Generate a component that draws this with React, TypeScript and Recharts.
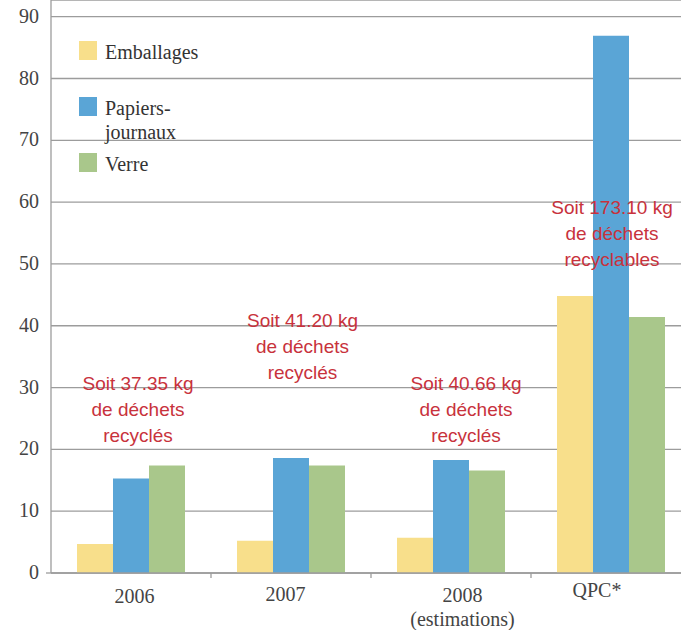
import React from 'react';
import { BarChart, Bar, XAxis, YAxis, CartesianGrid, Legend, ReferenceDot } from 'recharts';

const categories = ['2006', '2007', '2008', 'QPC*'];
const subLabels = ['', '', '(estimations)', ''];
const emballages = [4.7, 5.2, 5.7, 44.8];
const papiers = [15.3, 18.6, 18.3, 86.9];
const verre = [17.4, 17.4, 16.6, 41.4];
const yTicks = [0, 10, 20, 30, 40, 50, 60, 70, 80, 90];

const noteLines = [
  ['Soit 37.35 kg', 'de déchets', 'recyclés'],
  ['Soit 41.20 kg', 'de déchets', 'recyclés'],
  ['Soit 40.66 kg', 'de déchets', 'recyclés'],
  ['Soit 173.10 kg', 'de déchets', 'recyclables'],
];
// value at which the first line of each note sits
const noteLevel = [30.7, 41.0, 30.7, 59.2];

const data = categories.map((c, i) => ({
  cat: c,
  emballages: emballages[i],
  papiers: papiers[i],
  verre: verre[i],
}));

const W = 691;
const H = 630;
const Y_W = 51;
const band = (W - Y_W) / categories.length;

const SERIF = '"Liberation Serif", "DejaVu Serif", serif';
const SANS = '"Liberation Sans", Arial, sans-serif';
const RED = '#c8323c';
const GRID = '#9c9c9c';

// small nudges so the text lands where the original puts it
const labelShift = [3.5, -5.5, 11.5, -14];
const labelLift = [1, -1, 0, -5];
const noteShift = [7, 11.5, 15, 1];

const YTick = ({ x, y, payload }: any) => (
  <g>
    {payload.value === 0 && <line x1={x + 7} x2={x + 12} y1={y} y2={y} stroke={GRID} strokeWidth={1.3} />}
    <text x={x} y={y + 6} textAnchor="end" fontFamily={SERIF} fontSize={20} fill="#444">
      {payload.value}
    </text>
  </g>
);

const XTick = ({ x, y, payload, index }: any) => {
  const sub = subLabels[index];
  return (
    <g>
      {index > 0 && <line x1={x - band / 2} x2={x - band / 2} y1={y} y2={y + 5} stroke={GRID} strokeWidth={1.3} />}
      <text
        x={x + labelShift[index]}
        y={y + 29 + labelLift[index]}
        textAnchor="middle"
        fontFamily={SERIF}
        fontSize={20}
        fill="#444"
      >
        {payload.value}
      </text>
      {sub && (
        <text x={x + labelShift[index]} y={y + 53} textAnchor="middle" fontFamily={SERIF} fontSize={20} fill="#444">
          {sub}
        </text>
      )}
    </g>
  );
};

const Note = ({ cx, cy, i }: any) => (
  <text x={cx + noteShift[i]} y={cy + 7} textAnchor="middle" fontFamily={SANS} fontSize={19} fill={RED}>
    {noteLines[i].map((l, k) => (
      <tspan key={k} x={cx + noteShift[i]} dy={k === 0 ? 0 : 26}>
        {l}
      </tspan>
    ))}
  </text>
);

const LegendBox = ({ payload }: any) => (
  <div style={{ fontFamily: SERIF, fontSize: 20, color: '#333', lineHeight: '24px' }}>
    {(payload || []).map((p: any) => (
      <div key={p.value} style={{ display: 'flex', alignItems: 'flex-start', minHeight: 56 }}>
        <span style={{ width: 18, height: 19, marginTop: 1, marginRight: 8, background: p.color, flex: 'none' }} />
        <span style={{ maxWidth: 100 }}>{p.value}</span>
      </div>
    ))}
  </div>
);

export default function App() {
  return (
    <div style={{ position: 'absolute', left: 0, top: 0, width: 681, height: 630, overflow: 'hidden', background: '#fff' }}>
      <BarChart width={W} height={H} data={data} margin={{ top: 0, right: 0, left: 0, bottom: 0 }} barGap={0} barCategoryGap={26}>
        <CartesianGrid vertical={false} stroke={GRID} strokeWidth={1.3} />
        <XAxis
          dataKey="cat"
          height={57}
          axisLine={{ stroke: GRID, strokeWidth: 1.3 }}
          tickLine={false}
          tickSize={0}
          tickMargin={0}
          tick={<XTick />}
          interval={0}
        />
        <YAxis
          width={Y_W}
          domain={[0, 92.7]}
          ticks={yTicks}
          axisLine={{ stroke: GRID, strokeWidth: 1.3 }}
          tickLine={false}
          tickSize={6}
          tickMargin={6}
          tick={<YTick />}
          interval={0}
        />
        <Legend
          layout="vertical"
          verticalAlign="middle"
          align="center"
          content={<LegendBox />}
          wrapperStyle={{ position: 'absolute', left: 79, top: 40, width: 160 }}
        />
        <Bar dataKey="emballages" name="Emballages" fill="#f8df8b" isAnimationActive={false} />
        <Bar dataKey="papiers" name="Papiers-journaux" fill="#5aa5d6" isAnimationActive={false} />
        <Bar dataKey="verre" name="Verre" fill="#a9c78b" isAnimationActive={false} />
        {categories.map((c, i) => (
          <ReferenceDot
            key={c}
            x={c}
            y={noteLevel[i]}
            r={0}
            ifOverflow="visible"
            shape={(p: any) => <Note cx={p.cx} cy={p.cy} i={i} />}
          />
        ))}
      </BarChart>
    </div>
  );
}
